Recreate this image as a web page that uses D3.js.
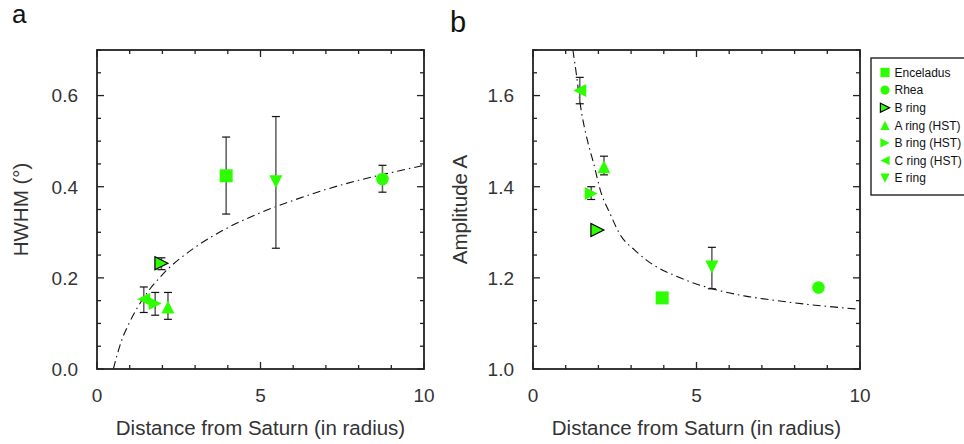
<!DOCTYPE html>
<html>
<head>
<meta charset="utf-8">
<script src="https://cdn.jsdelivr.net/npm/d3@7"></script>
<style>
  body { margin: 0; background: #fff; }
  svg { display: block; font-family: "Liberation Sans", Arial, Helvetica, sans-serif; }
</style>
</head>
<body>
<svg id="chart"></svg>
<script>

// DATA

const names = ["Enceladus", "Rhea", "B ring", "A ring (HST)", "B ring (HST)", "C ring (HST)", "E ring"];
const symbols = ["square", "circle", "rightOutlined", "up", "right", "left", "down"];

const distance = [3.95, 8.73, 1.97, 2.17, 1.78, 1.43, 5.47];

const hwhm = [0.424, 0.417, 0.232, 0.136, 0.144, 0.153, 0.411];
const hwhmLo = [0.340, 0.388, 0.218, 0.109, 0.118, 0.124, 0.265];
const hwhmHi = [0.509, 0.447, 0.244, 0.168, 0.168, 0.180, 0.554];

const amplitude = [1.156, 1.179, 1.305, 1.444, 1.385, 1.611, 1.224];
const ampLo = [null, null, null, 1.426, 1.372, 1.582, 1.176];
const ampHi = [null, null, null, 1.467, 1.400, 1.640, 1.267];

// fit curves
const fitHwhmX = [0.5, 0.6, 0.75, 1, 1.5, 2, 3, 4, 5, 6, 7, 8, 9, 10];
const fitHwhmY = [0.0, 0.027, 0.062, 0.103, 0.164, 0.207, 0.267, 0.310, 0.343, 0.370, 0.394, 0.414, 0.431, 0.447];

const fitAmpX = [1.22, 1.28, 1.48, 1.68, 1.84, 2.09, 2.35, 2.67, 3.11, 3.47, 4.5, 5.48, 6.5, 7.35, 8.5, 10];
const fitAmpY = [1.70, 1.671, 1.565, 1.497, 1.455, 1.385, 1.342, 1.294, 1.261, 1.239, 1.20, 1.176, 1.16, 1.151, 1.141, 1.131];

const xTicks = [0, 5, 10];
const hwhmTicks = [0, 0.2, 0.4, 0.6];
const ampTicks = [1.0, 1.2, 1.4, 1.6];

const green = "#2dff00";

const width = 964;
const height = 444;

const svg = d3.select("#chart")
  .attr("width", width)
  .attr("height", height);

// SYMBOLS

function symbolPath(type, s) {
  if (type === "square") return `M${-s},${-s}H${s}V${s}H${-s}Z`;
  if (type === "up") return `M0,${-s}L${s},${s}L${-s},${s}Z`;
  if (type === "down") return `M0,${s}L${s},${-s}L${-s},${-s}Z`;
  if (type === "left") return `M${-s},0L${s},${-s}L${s},${s}Z`;
  return `M${s},0L${-s},${-s}L${-s},${s}Z`;
}

function drawSymbol(g, type, x, y, s) {
  if (type === "circle") {
    g.append("circle")
      .attr("cx", x)
      .attr("cy", y)
      .attr("r", s)
      .attr("fill", green);
    return;
  }
  g.append("path")
    .attr("transform", `translate(${x},${y})`)
    .attr("d", symbolPath(type, s))
    .attr("fill", green)
    .attr("stroke", type === "rightOutlined" ? "#000" : "none")
    .attr("stroke-width", 1.2);
}

// PANEL

function panel(opts) {

  const x = d3.scaleLinear().domain([0, 10]).range([opts.left, opts.right]);
  const y = d3.scaleLinear().domain(opts.yDomain).range([369, 50]);

  const g = svg.append("g");

  const clipId = "clip-" + opts.id;
  svg.append("clipPath")
    .attr("id", clipId)
    .append("rect")
    .attr("x", opts.left)
    .attr("y", 50)
    .attr("width", opts.right - opts.left)
    .attr("height", 319);

  // ticks, inward on all four sides
  const minorX = d3.range(0, 11, 1);
  const minorY = d3.range(0, 15).map(i => opts.yDomain[0] + i * 0.05);

  const tickG = g.append("g")
    .attr("stroke", "#222")
    .attr("stroke-width", 1.3);

  minorX.forEach(v => {
    const len = xTicks.includes(v) ? 7 : 4;
    tickG.append("line")
      .attr("x1", x(v)).attr("x2", x(v))
      .attr("y1", 369).attr("y2", 369 - len);
    tickG.append("line")
      .attr("x1", x(v)).attr("x2", x(v))
      .attr("y1", 50).attr("y2", 50 + len);
  });

  minorY.forEach(v => {
    const major = opts.yTicks.some(t => Math.abs(t - v) < 1e-6);
    const len = major ? 7 : 4;
    tickG.append("line")
      .attr("x1", opts.left).attr("x2", opts.left + len)
      .attr("y1", y(v)).attr("y2", y(v));
    tickG.append("line")
      .attr("x1", opts.right).attr("x2", opts.right - len)
      .attr("y1", y(v)).attr("y2", y(v));
  });

  // tick labels
  g.append("g")
    .selectAll("text")
    .data(xTicks)
    .enter()
    .append("text")
    .attr("x", d => x(d))
    .attr("y", 402)
    .attr("text-anchor", "middle")
    .attr("font-size", "19px")
    .attr("fill", "#333")
    .text(d => d);

  g.append("g")
    .selectAll("text")
    .data(opts.yTicks)
    .enter()
    .append("text")
    .attr("x", opts.left - 19)
    .attr("y", d => y(d))
    .attr("dy", "0.36em")
    .attr("text-anchor", "end")
    .attr("font-size", "19px")
    .attr("fill", "#333")
    .text(d => d.toFixed(1));

  // axis titles
  g.append("text")
    .attr("x", (opts.left + opts.right) / 2)
    .attr("y", 435)
    .attr("text-anchor", "middle")
    .attr("font-size", "20.5px")
    .attr("fill", "#333")
    .text("Distance from Saturn (in radius)");

  g.append("text")
    .attr("transform", `translate(${opts.titleX},209.5) rotate(-90)`)
    .attr("text-anchor", "middle")
    .attr("font-size", "20.5px")
    .attr("fill", "#333")
    .text(opts.yTitle);

  // panel letter
  g.append("text")
    .attr("x", opts.letterX)
    .attr("y", opts.letterY)
    .attr("font-size", opts.letterSize)
    .attr("fill", "#111")
    .text(opts.letter);

  // fit curve
  const line = d3.line()
    .x((d, i) => x(opts.fitX[i]))
    .y(d => y(d))
    .curve(d3.curveMonotoneX);

  g.append("path")
    .attr("clip-path", `url(#${clipId})`)
    .attr("d", line(opts.fitY))
    .attr("fill", "none")
    .attr("stroke", "#111")
    .attr("stroke-width", 1.1)
    .attr("stroke-dasharray", "8,4,1.5,4");

  // error bars
  const errG = g.append("g");

  distance.forEach((d, i) => {
    if (opts.lo[i] == null) return;
    errG.append("line")
      .attr("x1", x(d)).attr("x2", x(d))
      .attr("y1", y(opts.lo[i])).attr("y2", y(opts.hi[i]))
      .attr("stroke", "#666")
      .attr("stroke-width", 1.6);
    [opts.lo[i], opts.hi[i]].forEach(v => {
      errG.append("line")
        .attr("x1", x(d) - 4).attr("x2", x(d) + 4)
        .attr("y1", y(v)).attr("y2", y(v))
        .attr("stroke", "#111")
        .attr("stroke-width", 1.2);
    });
  });

  // markers
  const markG = g.append("g");

  distance.forEach((d, i) => {
    const size = symbols[i] === "circle" ? 6.3 : 6.5;
    drawSymbol(markG, symbols[i], x(d), y(opts.values[i]), size);
  });

  // frame
  g.append("rect")
    .attr("x", opts.left)
    .attr("y", 50)
    .attr("width", opts.right - opts.left)
    .attr("height", 319)
    .attr("fill", "none")
    .attr("stroke", "#222")
    .attr("stroke-width", 1.8);
}

panel({
  id: "a",
  left: 97,
  right: 424,
  yDomain: [0, 0.7],
  yTicks: hwhmTicks,
  yTitle: "HWHM (°)",
  titleX: 28,
  letter: "a",
  letterX: 12,
  letterY: 23,
  letterSize: "26px",
  fitX: fitHwhmX,
  fitY: fitHwhmY,
  values: hwhm,
  lo: hwhmLo,
  hi: hwhmHi
});

panel({
  id: "b",
  left: 533,
  right: 860,
  yDomain: [1.0, 1.7],
  yTicks: ampTicks,
  yTitle: "Amplitude A",
  titleX: 467,
  letter: "b",
  letterX: 450,
  letterY: 32,
  letterSize: "29px",
  fitX: fitAmpX,
  fitY: fitAmpY,
  values: amplitude,
  lo: ampLo,
  hi: ampHi
});

// LEGEND

const legend = svg.append("g");

legend.append("rect")
  .attr("x", 871)
  .attr("y", 58)
  .attr("width", 120)
  .attr("height", 137)
  .attr("fill", "#fff")
  .attr("stroke", "#222")
  .attr("stroke-width", 1.4);

names.forEach((name, i) => {
  const cy = 72.5 + i * 17.6;
  drawSymbol(legend, symbols[i], 885, cy, 4.6);
  legend.append("text")
    .attr("x", 894.5)
    .attr("y", cy)
    .attr("dy", "0.36em")
    .attr("font-size", "12px")
    .attr("fill", "#111")
    .text(name);
});

</script>
</body>
</html>
